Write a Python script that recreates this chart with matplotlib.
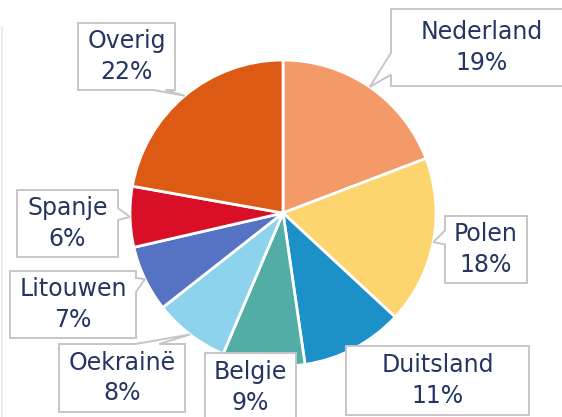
import numpy as np
import matplotlib
matplotlib.use('Agg')
import matplotlib.pyplot as plt
from matplotlib.patches import Polygon
from matplotlib.lines import Line2D

# data
countries = ['Nederland', 'Polen', 'Duitsland', 'Belgie', 'Oekrainë', 'Litouwen', 'Spanje', 'Overig']
shares = [19.2, 17.7, 10.8, 8.7, 8.0, 7.0, 6.4, 22.2]
colors = ['#F39A68', '#FCD56F', '#1B91C8', '#51ADA5', '#8DD3EE', '#5672C2', '#D90F27', '#DC5A13']

W, H = 562, 417
CX, CY, R = 283, 213, 153
navy = '#253561'
box_edge = '#C9C5C6'

# callout boxes in pixels: (left, top, right, bottom), pointer side, base position, base half width
boxes = [
    ((391, 9, 572, 86), 'left', 0.71, 11),
    ((445, 216, 527, 283), 'left', 0.32, 7),
    ((346, 346, 529, 415), None, 0, 0),
    ((205, 353, 296, 422), None, 0, 0),
    ((59, 344, 185, 412), 'top', 0.70, 12),
    ((10, 271, 136, 338), 'right', 0.21, 7),
    ((17, 190, 118, 257), 'right', 0.36, 6),
    ((78, 23, 175, 90), 'bottom', 0.84, 6),
]


def callout_points(box, side, frac, half, tip):
    l, t, r, b = box
    pts = [(l, t)]
    if side == 'top':
        c = l + frac * (r - l)
        pts += [(c - half, t), tip, (c + half, t)]
    pts.append((r, t))
    if side == 'right':
        c = t + frac * (b - t)
        pts += [(r, c - half), tip, (r, c + half)]
    pts.append((r, b))
    if side == 'bottom':
        c = l + frac * (r - l)
        pts += [(c + half, b), tip, (c - half, b)]
    pts.append((l, b))
    if side == 'left':
        c = t + frac * (b - t)
        pts += [(l, c + half), tip, (l, c - half)]
    # flip y to data coords
    return [(x, H - y) for x, y in pts]


fig = plt.figure(figsize=(W / 100, H / 100), dpi=100)
ax = fig.add_axes([0, 0, 1, 1])

wedges, _ = ax.pie(shares, colors=colors, startangle=90, counterclock=False,
                   center=(CX, H - CY), radius=R,
                   wedgeprops=dict(edgecolor='white', linewidth=2))

ax.set_xlim(0, W)
ax.set_ylim(0, H)
ax.set_aspect('auto')
ax.axis('off')

for w, name, share, (box, side, frac, half) in zip(wedges, countries, shares, boxes):
    # pointer tip on the rim at the middle of the wedge
    mid = np.deg2rad((w.theta1 + w.theta2) / 2)
    tip = (CX + R * np.cos(mid), CY - R * np.sin(mid))
    pts = callout_points(box, side, frac, half, tip)
    ax.add_patch(Polygon(pts, closed=True, facecolor='white', edgecolor=box_edge,
                         linewidth=1.4, zorder=3, joinstyle='miter'))
    l, t, r, b = box
    ax.text((l + r) / 2, H - (t + b) / 2, f'{name}\n{round(share)}%', ha='center', va='center',
            ma='center', fontsize=17, color=navy, linespacing=1.32, zorder=4)

# thin grey rule at the left edge
fig.add_artist(Line2D([1.5 / W, 1.5 / W], [0, 1 - 27 / H], color='#ECECEC', linewidth=1.5))

fig.savefig('out.png', dpi=100)
